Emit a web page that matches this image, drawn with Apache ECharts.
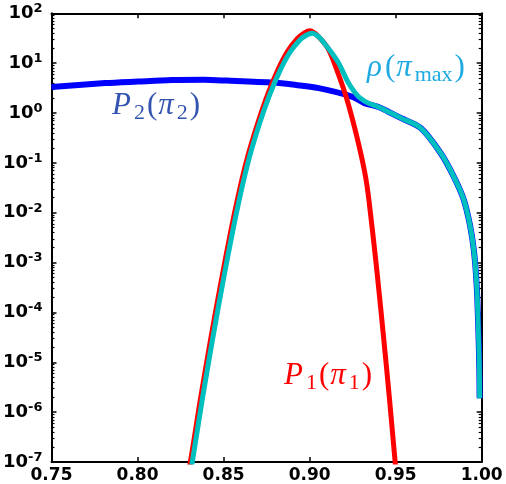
<!DOCTYPE html>
<html>
<head>
<meta charset="utf-8">
<script src="https://cdn.jsdelivr.net/npm/echarts@6/dist/echarts.min.js"></script>
<style>
html,body{margin:0;padding:0;background:#fff;}
#chart{width:506px;height:484px;}
</style>
</head>
<body>
<div id="chart"></div>
<script>
// x ticks
var xTicks = [0.75, 0.80, 0.85, 0.90, 0.95, 1.00];
// y decades (exponents of 10)
var yExponents = [-7, -6, -5, -4, -3, -2, -1, 0, 1, 2];

// P2(pi2) - blue
var p2X = [0.750, 0.7812, 0.800, 0.820, 0.8386, 0.8517, 0.8786, 0.8901, 0.9053, 0.9245, 0.9319, 0.940, 0.9455, 0.9532, 0.9646, 0.9761, 0.9837, 0.9895, 0.9933, 0.9956, 0.9971, 0.9980, 0.9986, 0.9988];
var p2Y = [3.31, 3.98, 4.27, 4.57, 4.63, 4.47, 4.07, 3.72, 3.16, 2.14, 1.58, 1.32, 1.07, 0.79, 0.50, 0.158, 0.0537, 0.0186, 0.00537, 0.00158, 3.4e-4, 5.4e-5, 8.5e-6, 1.9e-6];

// P1(pi1) - red
var p1X = [0.8290, 0.8307, 0.8366, 0.8425, 0.8486, 0.8546, 0.8594, 0.8642, 0.8699, 0.8756, 0.8814, 0.8871, 0.8928, 0.8970, 0.9004, 0.9055, 0.9111, 0.9165, 0.9217, 0.9274, 0.9321, 0.9344, 0.9388, 0.9427, 0.9464, 0.9497, 0.9503];
var p1Y = [5.6e-8, 1.0e-7, 1.86e-6, 2.9e-5, 4.2e-4, 5.0e-3, 0.030, 0.141, 0.631, 2.34, 7.08, 17.0, 30.9, 40.7, 44.7, 33.1, 18.6, 6.3, 1.86, 0.339, 0.063, 0.0186, 8.5e-4, 4.0e-5, 1.86e-6, 1.0e-7, 6.3e-8];

// rho(pi_max) - cyan
var rhoX = [0.8305, 0.8318, 0.8377, 0.8436, 0.8497, 0.8557, 0.8605, 0.8653, 0.8710, 0.8767, 0.8825, 0.8882, 0.8939, 0.8980, 0.9016, 0.9055, 0.9092, 0.9130, 0.9169, 0.9226, 0.9283, 0.9341, 0.940, 0.9455, 0.9532, 0.9646, 0.9761, 0.9837, 0.9895, 0.9933, 0.9956, 0.9971, 0.9980, 0.9986, 0.9988];
var rhoY = [5.6e-8, 1.0e-7, 1.86e-6, 2.9e-5, 4.2e-4, 5.0e-3, 0.030, 0.141, 0.631, 2.29, 6.76, 15.8, 28.2, 36.3, 39.8, 33.1, 23.4, 15.8, 10.0, 3.98, 2.14, 1.58, 1.32, 1.07, 0.79, 0.50, 0.158, 0.0537, 0.0186, 0.00537, 0.00158, 3.4e-4, 5.4e-5, 8.5e-6, 1.9e-6];

function zip(a, b) { return a.map(function (v, i) { return [v, b[i]]; }); }

var minorVals = [];
for (var i = 0; i < yExponents.length - 1; i++) {
  for (var k = 2; k <= 9; k++) minorVals.push(k * Math.pow(10, yExponents[i]));
}
var majorVals = yExponents.map(function (e) { return Math.pow(10, e); });

var yMin = majorVals[0], yMax = majorVals[majorVals.length - 1];
var tickFont = 'DejaVu Sans';

function baseY(pos) {
  return {
    type: 'log', logBase: 10, min: yMin, max: yMax, interval: 1, position: pos,
    axisLine: { show: true, lineStyle: { color: '#000', width: 2 } },
    axisTick: { show: true, inside: true, length: 5, lineStyle: { color: '#000', width: 1.5 }, customValues: majorVals },
    axisLabel: { show: false },
    splitLine: { show: false }, minorTick: { show: false }
  };
}
function minorY(pos) {
  return {
    type: 'log', logBase: 10, min: yMin, max: yMax, position: pos,
    axisLine: { show: false },
    axisTick: { show: true, inside: true, length: 3, lineStyle: { color: '#000', width: 1.2 }, customValues: minorVals },
    axisLabel: { show: false },
    splitLine: { show: false }
  };
}
var yLeft = baseY('left');
yLeft.axisLabel = {
  show: true, margin: 9, customValues: majorVals,
  formatter: function (v) {
    var e = Math.round(Math.log10(v));
    return '{b|10}{s|' + (e < 0 ? '-' + (-e) : e) + '}';
  },
  rich: {
    b: { fontFamily: tickFont, fontWeight: 'bold', fontSize: 18, color: '#000', lineHeight: 22 },
    s: { fontFamily: tickFont, fontWeight: 'bold', fontSize: 13, color: '#000', lineHeight: 14, verticalAlign: 'top' }
  }
};

function baseX(pos, labels) {
  return {
    type: 'value', min: xTicks[0], max: xTicks[xTicks.length - 1], interval: 0.05, position: pos,
    axisLine: { show: true, lineStyle: { color: '#000', width: 2 } },
    axisTick: { show: true, inside: true, length: 5, lineStyle: { color: '#000', width: 1.5 } },
    axisLabel: labels ? {
      show: true, margin: 5, color: '#000', fontFamily: tickFont, fontWeight: 'bold', fontSize: 17,
      formatter: function (v) { return v.toFixed(2); }
    } : { show: false },
    splitLine: { show: false }
  };
}

var serif = 'Liberation Serif';
function mathRich(color, size) {
  var sub = Math.round(size * 0.7);
  var lh = Math.round(size * 1.2);
  return {
    i: { fontFamily: serif, fontStyle: 'italic', fontSize: size, fill: color, lineHeight: lh, padding: [0, 2, 0, 0] },
    r: { fontFamily: serif, fontSize: size, fill: color, lineHeight: lh, padding: [0, 1, 0, 1] },
    s: { fontFamily: serif, fontSize: sub, fill: color, lineHeight: sub, verticalAlign: 'bottom', padding: [0, 1, 0, 1] }
  };
}

var chart = echarts.init(document.getElementById('chart'));
chart.setOption({
  animation: false,
  backgroundColor: '#fff',
  grid: { left: 45.7, right: 24.3, top: 13.3, bottom: 20.7, containLabel: false },
  xAxis: [baseX('bottom', true), baseX('top', false)],
  yAxis: [yLeft, baseY('right'), minorY('left'), minorY('right')],
  series: [
    { name: 'P2', type: 'line', data: zip(p2X, p2Y), showSymbol: false, smooth: 0.3, z: 2,
      lineStyle: { color: '#0000ff', width: 6 } },
    { name: 'P1', type: 'line', data: zip(p1X, p1Y), showSymbol: false, smooth: 0.3, z: 3,
      lineStyle: { color: '#ff0000', width: 5 } },
    { name: 'rho', type: 'line', data: zip(rhoX, rhoY), showSymbol: false, smooth: 0.3, z: 4,
      lineStyle: { color: '#00bfbf', width: 5 } }
  ],
  graphic: [
    { type: 'text', left: 112, top: 90, z: 10,
      style: { text: '{i|P}{s|2}{r|(}{i|π}{s|2}{r|)}', rich: mathRich('#3354b0', 31) } },
    { type: 'text', left: 284, top: 360, z: 10,
      style: { text: '{i|P}{s|1}{r|(}{i|π}{s|1}{r|)}', rich: mathRich('#ff0000', 31) } },
    { type: 'text', left: 367, top: 52, z: 10,
      style: { text: '{i|ρ}{r|(}{i|π}{s|max}{r|)}', rich: mathRich('#1eaae1', 31) } }
  ]
});
</script>
</body>
</html>
